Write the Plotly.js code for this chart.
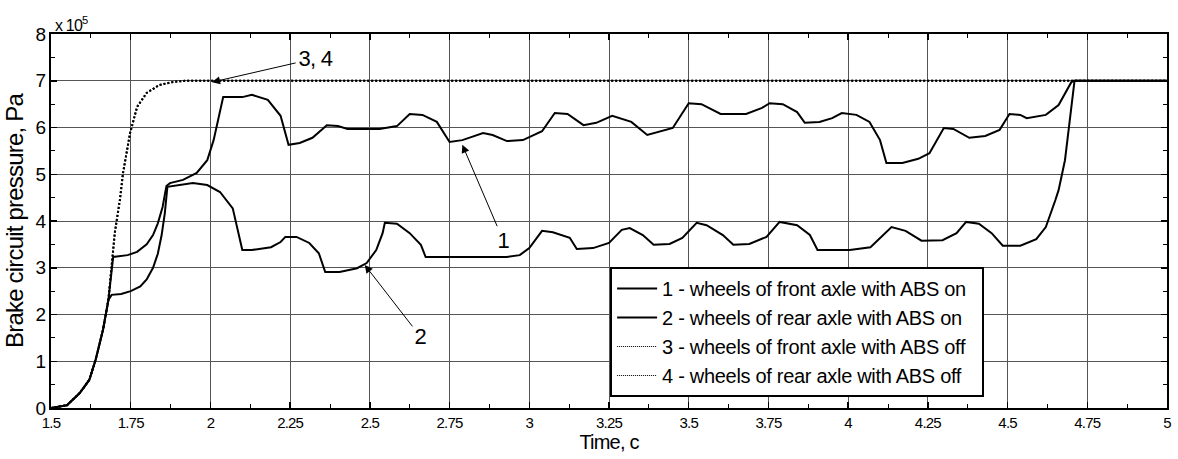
<!DOCTYPE html>
<html>
<head>
<meta charset="utf-8">
<script src="https://cdn.plot.ly/plotly-3.0.1.min.js"></script>
<style>
html,body{margin:0;padding:0;background:#fff;}
#chart{width:1178px;height:459px;}
#chart svg text{letter-spacing:-0.8px;}
#chart svg .legendtext{letter-spacing:-0.3px;}
</style>
</head>
<body>
<div id="chart"></div>
<script>
// Series 1: wheels of front axle with ABS on
const t1 = [1.5,1.55,1.59,1.62,1.64,1.663,1.68,1.69,1.695,1.74,1.77,1.80,1.82,1.835,1.85,1.862,1.873,1.914,1.957,1.99,2.01,2.04,2.10,2.13,2.18,2.22,2.235,2.245,2.28,2.32,2.365,2.40,2.43,2.53,2.585,2.625,2.665,2.71,2.75,2.79,2.82,2.855,2.885,2.93,2.98,3.04,3.08,3.12,3.17,3.21,3.26,3.32,3.37,3.45,3.50,3.54,3.60,3.68,3.73,3.754,3.795,3.84,3.864,3.91,3.95,3.98,4.026,4.067,4.10,4.12,4.17,4.22,4.255,4.30,4.33,4.38,4.43,4.475,4.506,4.54,4.56,4.62,4.66,4.68,4.70,4.71,5.0];
const p1 = [0,0.06,0.32,0.6,1.03,1.67,2.31,3.02,3.23,3.27,3.34,3.50,3.70,3.95,4.30,4.75,4.81,4.88,5.03,5.3,5.73,6.65,6.65,6.70,6.59,6.25,5.90,5.63,5.67,5.78,6.05,6.03,5.97,5.97,6.03,6.29,6.27,6.12,5.69,5.73,5.80,5.88,5.84,5.71,5.73,5.92,6.31,6.29,6.05,6.10,6.25,6.12,5.84,5.99,6.52,6.50,6.29,6.29,6.42,6.52,6.50,6.33,6.10,6.12,6.20,6.31,6.27,6.12,5.73,5.24,5.24,5.33,5.45,5.99,5.97,5.78,5.82,5.95,6.29,6.27,6.20,6.27,6.48,6.73,6.97,7.0,7.0];

// Series 2: wheels of rear axle with ABS on
const t2 = [1.5,1.55,1.59,1.62,1.64,1.663,1.68,1.69,1.72,1.75,1.78,1.80,1.82,1.835,1.847,1.857,1.865,1.90,1.945,1.99,2.03,2.07,2.086,2.10,2.13,2.19,2.22,2.235,2.27,2.31,2.34,2.36,2.405,2.46,2.49,2.52,2.54,2.547,2.585,2.625,2.66,2.675,2.76,2.93,2.97,3.0,3.04,3.074,3.127,3.149,3.20,3.25,3.29,3.315,3.356,3.39,3.44,3.48,3.525,3.556,3.607,3.64,3.69,3.744,3.785,3.84,3.88,3.904,4.005,4.07,4.136,4.18,4.23,4.296,4.34,4.37,4.41,4.45,4.485,4.54,4.59,4.62,4.65,4.66,4.68,4.695,4.71,5.0];
const p2 = [0,0.06,0.32,0.6,1.03,1.67,2.31,2.42,2.44,2.50,2.60,2.75,3.00,3.30,3.70,4.17,4.73,4.76,4.81,4.77,4.62,4.27,3.81,3.38,3.38,3.44,3.55,3.66,3.66,3.53,3.31,2.91,2.91,2.99,3.10,3.38,3.74,3.96,3.94,3.74,3.49,3.23,3.23,3.23,3.27,3.42,3.79,3.76,3.64,3.40,3.42,3.53,3.81,3.85,3.70,3.49,3.51,3.64,3.96,3.91,3.70,3.49,3.51,3.66,3.98,3.91,3.70,3.38,3.38,3.44,3.87,3.79,3.58,3.59,3.74,3.98,3.94,3.74,3.47,3.47,3.61,3.87,4.45,4.66,5.30,6.16,7.0,7.0];

// Series 3 and 4: ABS off (front and rear coincide)
const t3 = [1.5,1.55,1.59,1.62,1.64,1.663,1.68,1.69,1.70,1.716,1.726,1.748,1.77,1.80,1.84,1.88,1.92,5.0];
const p3 = [0,0.06,0.32,0.6,1.03,1.67,2.31,3.02,3.74,4.45,5.03,5.88,6.44,6.74,6.91,6.97,7.0,7.0];
const t4 = t3.slice();
const p4 = p3.slice();

const names = [
  "1 - wheels of front axle with ABS on",
  "2 - wheels of rear axle with ABS on",
  "3 - wheels of front axle with ABS off",
  "4 - wheels of rear axle with ABS off"
];

const FONT = "'Liberation Sans', Arial, sans-serif";
const dotted = {color:'#000', width:2, dash:'2px,2px'};

const traces = [
  {x:t3, y:p3, name:names[2], mode:'lines', line:dotted, showlegend:false},
  {x:t4, y:p4, name:names[3], mode:'lines', line:dotted, showlegend:false},
  {x:t1, y:p1, name:names[0], mode:'lines', line:{color:'#000', width:2}},
  {x:t2, y:p2, name:names[1], mode:'lines', line:{color:'#000', width:2}},
  {x:[1.5], y:[-1], name:names[2], mode:'lines', line:{color:'#000', width:1, dash:'1px,1px'}},
  {x:[1.5], y:[-1], name:names[3], mode:'lines', line:{color:'#000', width:1, dash:'1px,1px'}}
];

const layout = {
  width:1178, height:459,
  margin:{l:51, r:11, t:34, b:51},
  paper_bgcolor:'#fff', plot_bgcolor:'#fff',
  font:{family:FONT, color:'#000'},
  showlegend:true,
  legend:{
    x:0.501, y:0.377, xanchor:'left', yanchor:'top',
    bgcolor:'#fff', bordercolor:'#000', borderwidth:2,
    font:{family:FONT, size:20, color:'#000'},
    tracegroupgap:0, itemwidth:40,
    entrywidth:345, entrywidthmode:'pixels'
  },
  xaxis:{
    range:[1.5,5], dtick:0.25, tick0:1.5,
    showgrid:true, gridcolor:'#555', gridwidth:1,
    zeroline:false, showline:true, linecolor:'#000', linewidth:2, mirror:'ticks',
    ticks:'inside', ticklen:6, tickwidth:1.5, tickcolor:'#000',
    minor:{dtick:0.125, tick0:1.5, ticks:'inside', ticklen:4, tickcolor:'#000', tickwidth:1, showgrid:false},
    tickfont:{family:FONT, size:15},
    title:{text:'Time, c', font:{family:FONT, size:20}, standoff:4}
  },
  yaxis:{
    range:[0,8], dtick:1, tick0:0,
    showgrid:true, gridcolor:'#555', gridwidth:1,
    zeroline:false, showline:true, linecolor:'#000', linewidth:2, mirror:'ticks',
    ticks:'inside', ticklen:6, tickwidth:1.5, tickcolor:'#000',
    minor:{dtick:0.5, tick0:0, ticks:'inside', ticklen:4, tickcolor:'#000', tickwidth:1, showgrid:false},
    tickfont:{family:FONT, size:19},
    title:{text:'Brake circuit pressure, Pa', font:{family:FONT, size:24}, standoff:4}
  },
  annotations:[
    {xref:'paper', yref:'paper', x:0.0, y:1.0, xanchor:'left', yanchor:'bottom', yshift:-2,
     text:'x 10<sup>5</sup>', showarrow:false, font:{family:FONT, size:16}},
    {x:2.005, y:6.97, ax:2.33, ay:7.48, axref:'x', ayref:'y', text:'3, 4',
     showarrow:true, arrowhead:2, arrowsize:1.6, arrowwidth:1, arrowcolor:'#000',
     font:{family:FONT, size:22}},
    {x:2.79, y:5.63, ax:2.918, ay:3.59, axref:'x', ayref:'y', text:'1',
     showarrow:true, arrowhead:2, arrowsize:1.6, arrowwidth:1, arrowcolor:'#000',
     font:{family:FONT, size:22}},
    {x:2.484, y:3.06, ax:2.657, ay:1.54, axref:'x', ayref:'y', text:'2',
     showarrow:true, arrowhead:2, arrowsize:1.6, arrowwidth:1, arrowcolor:'#000',
     font:{family:FONT, size:22}}
  ]
};

Plotly.newPlot('chart', traces, layout, {displayModeBar:false, staticPlot:true});
</script>
</body>
</html>
